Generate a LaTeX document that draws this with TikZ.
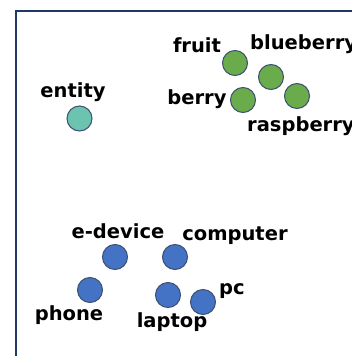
\documentclass[tikz,border=0pt]{standalone}
\usepackage{fontspec}
\setmainfont{DejaVu Sans}
\begin{document}
\begin{tikzpicture}[x=1pt,y=-1pt,
  lbl/.style={inner sep=0pt, font=\fontsize{19.5}{19.5}\selectfont\bfseries},
  dot/.style={circle, draw=outline, line width=1pt, minimum size=25pt, inner sep=0pt},
  teal/.style={dot, fill=tealc},
  grn/.style={dot, fill=greenc},
  blu/.style={dot, fill=bluec}]
\definecolor{outline}{HTML}{3B5070}
\definecolor{tealc}{HTML}{6CC3B0}
\definecolor{greenc}{HTML}{6AAB4B}
\definecolor{bluec}{HTML}{4472C4}
\definecolor{frame}{HTML}{1F3864}
\useasboundingbox (0,0) rectangle (352,356);
\draw[frame, line width=2pt] (16,370) -- (16,11) -- (370,11);
% top-left
\node[lbl] (tEntity) at (73,92) {entity};
\node[teal] (cEntity) at (79.5,118.5) {};
% fruits
\node[lbl] (tFruit) at (197,45) {fruit};
\node[grn] (cFruit) at (235,63) {};
\node[lbl, anchor=west] (tBlue) at (250,44) {blueberry};
\node[grn] (cBlue) at (271,77) {};
\node[grn] (cRasp) at (297,96) {};
\node[lbl] (tBerry) at (197,99) {berry};
\node[grn] (cBerry) at (243,100) {};
\node[lbl, anchor=west] (tRasp) at (247,126) {raspberry};
% devices
\node[lbl] (tEdev) at (118,231) {e-device};
\node[blu] (cEdev) at (115,257) {};
\node[lbl] (tComp) at (235,236) {computer};
\node[blu] (cComp) at (175,257) {};
\node[blu] (cPhone) at (90,290) {};
\node[lbl] (tPhone) at (69,315) {phone};
\node[blu] (cLaptop) at (168,295) {};
\node[lbl] (tLaptop) at (172,322) {laptop};
\node[blu] (cPc) at (203,302) {};
\node[lbl] (tPc) at (232,291) {pc};
\end{tikzpicture}
\end{document}
